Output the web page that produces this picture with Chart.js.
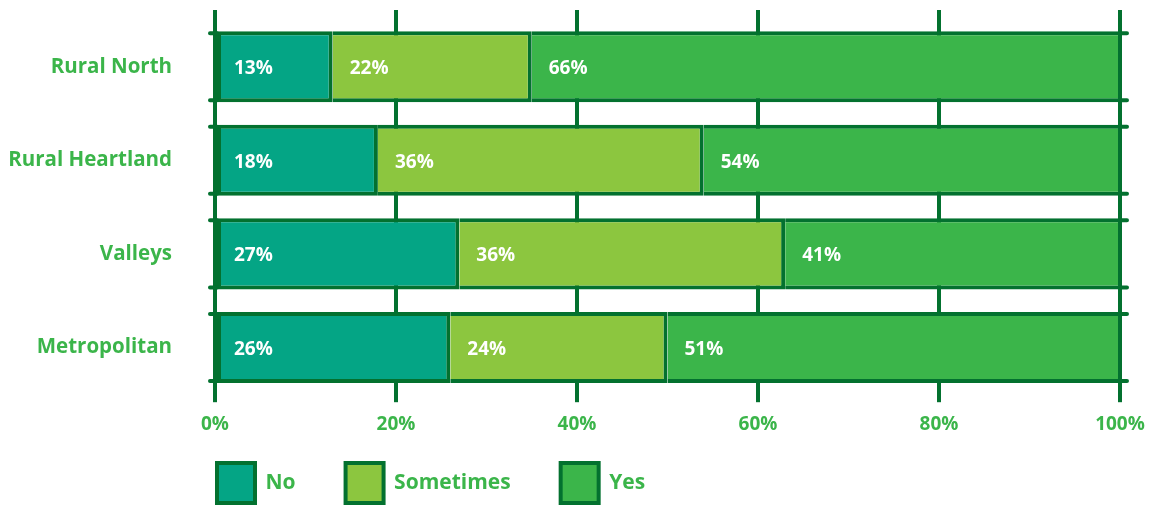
<!DOCTYPE html>
<html>
<head>
<meta charset="utf-8">
<script src="https://cdn.jsdelivr.net/npm/chart.js@4/dist/chart.umd.min.js"></script>
<style>
  html, body { margin: 0; padding: 0; background: #ffffff; }
  #wrap { width: 1158px; height: 506px; }
</style>
</head>
<body>
<div id="wrap"><canvas id="chart" width="1158" height="506"></canvas></div>
<script>
// Share of answers per region
const categories = ['Rural North', 'Rural Heartland', 'Valleys', 'Metropolitan'];
const noValues = [13, 18, 27, 26];
const sometimesValues = [22, 36, 36, 24];
const yesValues = [66, 54, 41, 51];
const tickLabels = ['0%', '20%', '40%', '60%', '80%', '100%'];

const INK = '#03712f';
const LABEL_GREEN = '#3bb54a';
const FONT = "'Open Sans', 'DejaVu Sans', sans-serif";

Chart.defaults.font.family = FONT;

// Closing edge at 100%, little overhangs on the bar outlines, and white value labels
const segmentLabels = {
  id: 'segmentLabels',
  afterDatasetsDraw(chart) {
    const ctx = chart.ctx;
    const area = chart.chartArea;
    const x100 = chart.scales.x.getPixelForValue(100);
    ctx.save();
    ctx.strokeStyle = INK;
    ctx.lineWidth = 4;
    ctx.lineCap = 'round';
    ctx.beginPath();
    ctx.moveTo(x100, area.top);
    ctx.lineTo(x100, area.bottom);
    // outline overhangs at both ends of each stack
    chart.getDatasetMeta(0).data.forEach((bar) => {
      const top = bar.y - bar.height / 2 + 2;
      const bottom = bar.y + bar.height / 2 - 2;
      [top, bottom].forEach((y) => {
        ctx.moveTo(bar.base - 7, y);
        ctx.lineTo(bar.base, y);
        ctx.moveTo(x100, y);
        ctx.lineTo(x100 + 7, y);
      });
    });
    ctx.stroke();

    ctx.fillStyle = '#ffffff';
    ctx.font = 'bold 19px ' + FONT;
    ctx.textAlign = 'left';
    ctx.textBaseline = 'middle';
    chart.data.datasets.forEach((ds, di) => {
      const meta = chart.getDatasetMeta(di);
      meta.data.forEach((bar, i) => {
        ctx.fillText(ds.data[i] + '%', bar.base + 17, bar.y + 2);
      });
    });
    ctx.restore();
  }
};

// Legend row sits under the axis, starting at the left edge of the plot
const legendPlacement = {
  id: 'legendPlacement',
  afterLayout(chart) {
    const lg = chart.legend;
    if (!lg) return;
    const pad = lg.options.labels.padding;
    lg.left = chart.chartArea.left + 2 - pad;
    lg.top = lg.bottom - 43 - pad;
  }
};

const datasetBase = {
  borderColor: INK,
  borderWidth: 4,
  clip: 0,
  categoryPercentage: 1,
  barPercentage: 0.76
};

new Chart(document.getElementById('chart'), {
  type: 'bar',
  data: {
    labels: categories,
    datasets: [
      Object.assign({}, datasetBase, { label: 'No', data: noValues, backgroundColor: '#04a585', borderSkipped: false }),
      Object.assign({}, datasetBase, { label: 'Sometimes', data: sometimesValues, backgroundColor: '#8cc63f', borderSkipped: 'start' }),
      Object.assign({}, datasetBase, { label: 'Yes', data: yesValues, backgroundColor: '#3bb54a', borderSkipped: 'start' })
    ]
  },
  options: {
    indexAxis: 'y',
    responsive: false,
    animation: false,
    layout: { padding: { top: 10, right: 38, bottom: 0, left: 0 } },
    scales: {
      x: {
        stacked: true,
        min: 0,
        max: 100,
        position: 'bottom',
        border: { display: false },
        grid: { color: INK, lineWidth: 4, drawTicks: true, tickLength: 8 },
        ticks: {
          stepSize: 20,
          padding: 11,
          color: LABEL_GREEN,
          font: { size: 19, weight: 'bold' },
          callback: (v, i) => tickLabels[i]
        }
      },
      xTop: {
        type: 'linear',
        axis: 'x',
        position: 'top',
        min: 0,
        max: 100,
        border: { display: false },
        grid: { color: INK, lineWidth: 4, drawOnChartArea: false, drawTicks: true, tickLength: 10 },
        ticks: { display: false, stepSize: 20 }
      },
      y: {
        stacked: true,
        border: { display: false },
        // hidden grid; its tick length only sets the gap before the labels
        grid: { display: false, drawTicks: true, tickLength: 43 },
        afterFit: (scale) => { scale.width = 215; },
        ticks: {
          padding: 0,
          color: LABEL_GREEN,
          font: { size: 20.5, weight: 'bold' }
        }
      }
    },
    plugins: {
      tooltip: { enabled: false },
      legend: {
        position: 'bottom',
        align: 'start',
        fullSize: false,
        maxHeight: 59,
        labels: {
          boxWidth: 38,
          boxHeight: 40,
          padding: 50,
          color: LABEL_GREEN,
          font: { size: 21, weight: 'bold' }
        }
      }
    }
  },
  plugins: [segmentLabels, legendPlacement]
});
</script>
</body>
</html>
